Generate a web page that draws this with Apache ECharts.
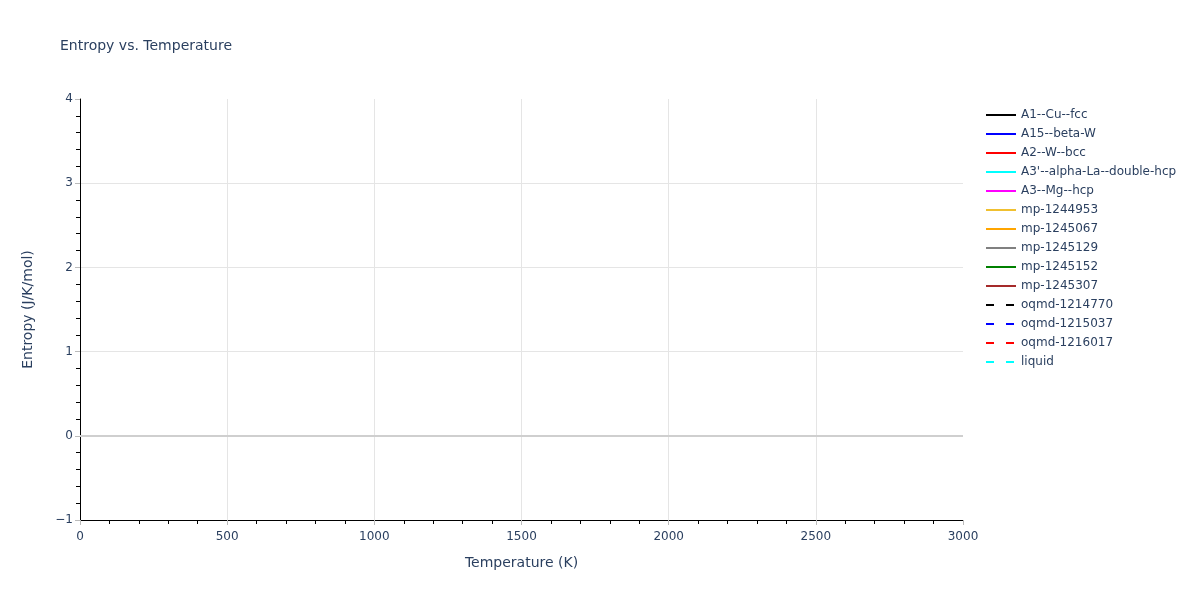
<!DOCTYPE html>
<html>
<head>
<meta charset="utf-8">
<script src="https://cdn.jsdelivr.net/npm/echarts@6/dist/echarts.min.js"></script>
<style>html,body{margin:0;padding:0;background:#fff}#c{width:1200px;height:600px}</style>
</head>
<body>
<div id="c"></div>
<script>
// Data (no visible points in the reference: every series is empty)
const seriesNames = ["A1--Cu--fcc","A15--beta-W","A2--W--bcc","A3'--alpha-La--double-hcp","A3--Mg--hcp","mp-1244953","mp-1245067","mp-1245129","mp-1245152","mp-1245307","oqmd-1214770","oqmd-1215037","oqmd-1216017","liquid"];
const seriesColors = ["#000000","#0000ff","#ff0000","#00ffff","#ff00ff","#f0c030","#ffa500","#808080","#008000","#a52a2a","#000000","#0000ff","#ff0000","#00ffff"];
const seriesDashed = [false,false,false,false,false,false,false,false,false,false,true,true,true,true];
const A1_Cu_fcc = [];
const A15_beta_W = [];
const A2_W_bcc = [];
const A3p_alpha_La_double_hcp = [];
const A3_Mg_hcp = [];
const mp_1244953 = [];
const mp_1245067 = [];
const mp_1245129 = [];
const mp_1245152 = [];
const mp_1245307 = [];
const oqmd_1214770 = [];
const oqmd_1215037 = [];
const oqmd_1216017 = [];
const liquid = [];
const seriesData = [A1_Cu_fcc,A15_beta_W,A2_W_bcc,A3p_alpha_La_double_hcp,A3_Mg_hcp,mp_1244953,mp_1245067,mp_1245129,mp_1245152,mp_1245307,oqmd_1214770,oqmd_1215037,oqmd_1216017,liquid];
const xTicks = [0,500,1000,1500,2000,2500,3000];
const yTicks = [-1,0,1,2,3,4];

const txt = '#2a3f5f';
const font = '"DejaVu Sans", Verdana, sans-serif';
const chart = echarts.init(document.getElementById('c'), null, {renderer:'canvas'});

const series = seriesNames.map((n,i)=>({
  name:n, type:'line', data:seriesData[i], symbol:'none', showSymbol:false,
  lineStyle:{color:seriesColors[i], width:2, type: seriesDashed[i] ? [8,12] : 'solid'},
  itemStyle:{color:seriesColors[i]},
  animation:false
}));
series[0].markLine = {
  silent:true, symbol:'none', label:{show:false},
  lineStyle:{color:'#cfcfcf', width:2, type:'solid'},
  data:[{yAxis:0}], animation:false
};

chart.setOption({
  backgroundColor:'#fff',
  animation:false,
  title:{text:'Entropy vs. Temperature', left:60, top:39, padding:0,
    textStyle:{color:txt, fontSize:14, fontWeight:'normal', fontFamily:font}},
  legend:{
    orient:'vertical', left:985, top:109, padding:0, itemWidth:30, itemHeight:14, itemGap:7,
    itemStyle:{opacity:0},
    textStyle:{color:txt, fontSize:12, fontFamily:font},
    data: seriesNames
  },
  grid:{left:80, right:237, top:99, bottom:80, containLabel:false},
  xAxis:{
    type:'value', min:xTicks[0], max:xTicks[xTicks.length-1], interval:500,
    name:'Temperature (K)', nameLocation:'middle', nameGap:36,
    nameTextStyle:{color:txt, fontSize:14, fontFamily:font},
    axisLine:{show:true, onZero:false, lineStyle:{color:'#000', width:1}},
    axisTick:{show:true, length:5, lineStyle:{color:'#bbb'}},
    minorTick:{show:true, splitNumber:5, length:4, lineStyle:{color:'#000'}},
    axisLabel:{color:txt, fontSize:12, fontFamily:font, margin:11, formatter:(v)=>String(v)},
    splitLine:{show:true, lineStyle:{color:['rgba(0,0,0,0)','#e5e5e5','#e5e5e5','#e5e5e5','#e5e5e5','#e5e5e5','rgba(0,0,0,0)'], width:1}}
  },
  yAxis:{
    type:'value', min:yTicks[0], max:yTicks[yTicks.length-1], interval:1,
    name:'Entropy (J/K/mol)', nameLocation:'middle', nameGap:45,
    nameTextStyle:{color:txt, fontSize:14, fontFamily:font},
    axisLine:{show:true, onZero:false, lineStyle:{color:'#000', width:1}},
    axisTick:{show:true, length:5, lineStyle:{color:'#bbb'}},
    minorTick:{show:true, splitNumber:5, length:4, lineStyle:{color:'#000'}},
    axisLabel:{color:txt, fontSize:12, fontFamily:font, margin:7, formatter:(v)=>(v<0?'\u2212'+Math.abs(v):String(v))},
    splitLine:{show:true, lineStyle:{color:['rgba(0,0,0,0)','#e5e5e5','#e5e5e5','#e5e5e5','#e5e5e5','rgba(0,0,0,0)'], width:1}}
  },
  series: series
});
</script>
</body>
</html>
